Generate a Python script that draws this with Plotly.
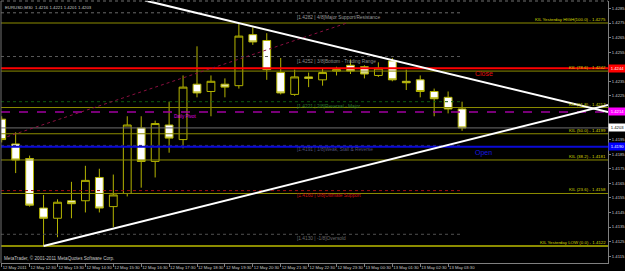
import plotly.graph_objects as go

# ---------------- data ----------------
bar_times = ["12 May 11:30", "12 May 12:00", "12 May 12:30", "12 May 13:00", "12 May 13:30",
             "12 May 14:00", "12 May 14:30", "12 May 15:00", "12 May 15:30", "12 May 16:00",
             "12 May 16:30", "12 May 17:00", "12 May 17:30", "12 May 18:00", "12 May 18:30",
             "12 May 19:00", "12 May 19:30", "12 May 20:00", "12 May 20:30", "12 May 21:00",
             "12 May 21:30", "12 May 22:00", "12 May 22:30", "12 May 23:00", "12 May 23:30",
             "13 May 00:00", "13 May 00:30", "13 May 01:00", "13 May 01:30", "13 May 02:00",
             "13 May 02:30", "13 May 03:00", "13 May 03:30", "13 May 04:00"]

open_p = [1.4209, 1.4192, 1.4182, 1.4148, 1.4141, 1.4153, 1.4153, 1.4169, 1.4149, 1.4158,
          1.4203, 1.4180, 1.4205, 1.4195, 1.4233, 1.4228, 1.4233, 1.4232, 1.4267, 1.4263,
          1.4241, 1.4226, 1.4238, 1.4236, 1.4242, 1.4246, 1.4245, 1.4239, 1.4249, 1.4235,
          1.4236, 1.4228, 1.4224, 1.4216]
high_p = [1.4211, 1.4200, 1.4184, 1.4157, 1.4154, 1.4166, 1.4177, 1.4175, 1.4171, 1.4211,
          1.4211, 1.4208, 1.4221, 1.4239, 1.4259, 1.4239, 1.4237, 1.4275, 1.4272, 1.4268,
          1.4251, 1.4243, 1.4241, 1.4244, 1.4245, 1.4250, 1.4246, 1.4248, 1.4251, 1.4243,
          1.4239, 1.4230, 1.4228, 1.4221]
low_p = [1.4193, 1.4172, 1.4149, 1.4122, 1.4128, 1.4141, 1.4145, 1.4145, 1.4135, 1.4156,
         1.4162, 1.4169, 1.4186, 1.4189, 1.4224, 1.4211, 1.4224, 1.4230, 1.4260, 1.4236,
         1.4226, 1.4225, 1.4231, 1.4232, 1.4239, 1.4240, 1.4237, 1.4238, 1.4235, 1.4229,
         1.4224, 1.4211, 1.4213, 1.4201]
close_p = [1.4195, 1.4181, 1.4150, 1.4141, 1.4152, 1.4151, 1.4167, 1.4148, 1.4157, 1.4205,
           1.4180, 1.4206, 1.4196, 1.4231, 1.4227, 1.4235, 1.4231, 1.4266, 1.4262, 1.4243,
           1.4227, 1.4238, 1.4237, 1.4241, 1.4243, 1.4242, 1.4240, 1.4244, 1.4236, 1.4234,
           1.4228, 1.4223, 1.4216, 1.4203]

price_ticks = [1.4285, 1.4275, 1.4265, 1.4255, 1.4245, 1.4235, 1.4225, 1.4215, 1.4205, 1.4195,
               1.4185, 1.4175, 1.4165, 1.4155, 1.4145, 1.4135, 1.4125, 1.4115]
# labels hidden behind the coloured price boxes are left blank, as in the terminal
price_tick_labels = ["1.4285", "1.4275", "1.4265", "1.4255", "", "1.4235", "1.4225",
                     "", "", "1.4195", "1.4185", "1.4175", "1.4165", "1.4155",
                     "1.4145", "1.4135", "1.4125", "1.4115"]
time_tick_vals = bar_times[0:33:2]
time_tick_labels = ["12 May 2011"] + bar_times[2:33:2]

kil_levels = [1.4275, 1.4242, 1.4217, 1.4199, 1.4181, 1.4158, 1.4122]
kil_labels = ["KIL Yesterday HIGH(100.0) - 1.4275", "KIL (78.6) - 1.4242", "KIL (61.8) - 1.4217",
              "KIL (50.0) - 1.4199", "KIL (38.2) - 1.4181", "KIL (23.6) - 1.4158",
              "KIL Yesterday LOW (0.0) - 1.4122"]

murrey_levels = [1.4282, 1.4252, 1.4221, 1.4191, 1.4160, 1.4130]
murrey_labels = ["[1.4282 | 4/8]Major Support/Resistance", "[1.4252 | 3/8]Bottom - Trading Range",
                 "[1.4221 | 2/8]Reversal - Major", "[1.4191 | 1/8]Weak, Stall & Reverse",
                 "[1.4160 | 0/8]Ultimate Support", "[1.4130 | -1/8]Oversold"]

close_level = 1.4244
open_level = 1.4190
pivot_level = 1.4214
bid_level = close_p[-1]

# trend lines: (bar index, price)
desc_trend_x = [10.27, 43.46]
desc_trend_y = [1.42905, 1.42139]
asc_trend_x = [3, 43.46]
asc_trend_y = [1.4122, 1.42187]
chan_trend_x = [0.4, 24.75]
chan_trend_y = [1.4197, 1.4275]

title_text = "EURUSD,M30  1.4216 1.4221 1.4201 1.4203"
copyright_text = "MetaTrader, © 2001-2011 MetaQuotes Software Corp."

# ---------------- styles ----------------
FONT = "Liberation Sans"
CANDLE_LINE = "#b4b400"
KIL_COLOR = "#8c8c00"
AXIS_COLOR = "#808080"
murrey_line_colors = ["#6a6a6a", "#5a5a5a", "#0f5a0f", "#303058", "#a01010", "#505050"]
murrey_text_colors = ["#9a9a9a", "#8a8a8a", "#2a7a2a", "#50507a", "#d01010", "#6a6a6a"]

x_range = [-0.05, 43.46]
y_range = [1.41103, 1.42901]

fig = go.Figure()
fig.add_trace(go.Candlestick(
    x=bar_times, open=open_p, high=high_p, low=low_p, close=close_p,
    increasing=dict(line=dict(color=CANDLE_LINE, width=1), fillcolor="#000000"),
    decreasing=dict(line=dict(color=CANDLE_LINE, width=1), fillcolor="#ffffff"),
    whiskerwidth=0, hoverinfo="skip", showlegend=False))

shapes = []
annotations = []

# Murrey math levels (dotted, up to last bar)
last_idx = len(bar_times) - 1
for lvl, lab, lc, tc in zip(murrey_levels, murrey_labels, murrey_line_colors, murrey_text_colors):
    shapes.append(dict(type="line", xref="x", yref="y", x0=x_range[0], x1=last_idx, y0=lvl, y1=lvl,
                       line=dict(color=lc, width=1, dash="dot")))
    annotations.append(dict(xref="x", yref="y", x=21, y=lvl, text=lab, showarrow=False,
                            xanchor="left", yanchor="top", yshift=0,
                            font=dict(family=FONT, size=4.8, color=tc)))

# KIL levels
for i, (lvl, lab) in enumerate(zip(kil_levels, kil_labels)):
    shapes.append(dict(type="line", xref="paper", yref="y", x0=0, x1=1, y0=lvl, y1=lvl,
                       line=dict(color=KIL_COLOR, width=2 if i == len(kil_levels) - 1 else 1)))
    annotations.append(dict(xref="paper", yref="y", x=1, y=lvl, text=lab, showarrow=False,
                            xanchor="right", yanchor="bottom", yshift=-1,
                            font=dict(family=FONT, size=4.4, color="#d8d800")))

# pivot, bid, close, open
shapes.append(dict(type="line", xref="paper", yref="y", x0=0, x1=1, y0=pivot_level, y1=pivot_level,
                   line=dict(color="#a000a0", width=1.5, dash="dash")))
shapes.append(dict(type="line", xref="paper", yref="y", x0=0, x1=1, y0=bid_level, y1=bid_level,
                   line=dict(color="#6e6e6e", width=1)))
shapes.append(dict(type="line", xref="paper", yref="y", x0=0, x1=1, y0=close_level, y1=close_level,
                   line=dict(color="#ff0000", width=2)))
shapes.append(dict(type="line", xref="paper", yref="y", x0=0, x1=1, y0=open_level, y1=open_level,
                   line=dict(color="#0a0ad8", width=2)))

# trend lines
shapes.append(dict(type="line", xref="x", yref="y", x0=chan_trend_x[0], x1=chan_trend_x[1],
                   y0=chan_trend_y[0], y1=chan_trend_y[1], line=dict(color="#8a1040", width=1, dash="dot")))
shapes.append(dict(type="line", xref="x", yref="y", x0=desc_trend_x[0], x1=desc_trend_x[1],
                   y0=desc_trend_y[0], y1=desc_trend_y[1], line=dict(color="#ffffff", width=2)))
shapes.append(dict(type="line", xref="x", yref="y", x0=asc_trend_x[0], x1=asc_trend_x[1],
                   y0=asc_trend_y[0], y1=asc_trend_y[1], line=dict(color="#ffffff", width=2)))

# window frame (left / top)
shapes.append(dict(type="line", xref="paper", yref="paper", x0=0, x1=0, y0=0, y1=1,
                   line=dict(color="#707070", width=1)))
shapes.append(dict(type="line", xref="paper", yref="paper", x0=0, x1=1, y0=1, y1=1,
                   line=dict(color="#707070", width=1, dash="dot")))

# text labels
annotations.append(dict(xref="x", yref="y", x=12.2, y=pivot_level, text="Daily Pivot", showarrow=False,
                        xanchor="left", yanchor="top", font=dict(family=FONT, size=4.6, color="#e000e0")))
annotations.append(dict(xref="x", yref="y", x=33.8, y=close_level, text="Close", showarrow=False,
                        xanchor="left", yanchor="top", font=dict(family=FONT, size=7, color="#e01010")))
annotations.append(dict(xref="x", yref="y", x=33.8, y=open_level, text="Open", showarrow=False,
                        xanchor="left", yanchor="top", font=dict(family=FONT, size=7, color="#1818e0")))

# price boxes on axis
for lvl, bg, fc in [(close_level, "#ff0000", "#ffffff"), (pivot_level, "#ff00ff", "#ffffff"),
                    (bid_level, "#ffffff", "#000000"), (open_level, "#0000ff", "#ffffff")]:
    annotations.append(dict(xref="paper", yref="y", x=1, y=lvl, text=f"{lvl:.4f}", showarrow=False,
                            xanchor="left", yanchor="middle", bgcolor=bg, borderpad=1, width=15,
                            font=dict(family=FONT, size=4.2, color=fc)))

annotations.append(dict(xref="paper", yref="paper", x=0, y=1, text=title_text, showarrow=False,
                        xanchor="left", yanchor="top", xshift=2, yshift=-2,
                        font=dict(family=FONT, size=4.3, color="#c8c8c8")))
annotations.append(dict(xref="paper", yref="paper", x=0, y=0, text=copyright_text, showarrow=False,
                        xanchor="left", yanchor="bottom", xshift=1, yshift=0,
                        font=dict(family=FONT, size=4.6, color="#c8c8c8")))

fig.update_layout(
    width=625, height=271,
    margin=dict(l=1, r=17, t=1, b=8, autoexpand=False),
    paper_bgcolor="#000000", plot_bgcolor="#000000",
    boxgap=0.2,
    shapes=shapes, annotations=annotations,
    showlegend=False,
    xaxis=dict(type="category", range=x_range, showgrid=False, zeroline=False,
               rangeslider=dict(visible=False), automargin=False,
               showline=True, linecolor=AXIS_COLOR, linewidth=1,
               ticks="outside", ticklen=3, tickcolor=AXIS_COLOR, tickangle=0,
               tickvals=time_tick_vals, ticktext=time_tick_labels,
               ticklabelposition="outside right",
               tickfont=dict(family=FONT, size=4.2, color="#c8c8c8")),
    yaxis=dict(side="right", range=y_range, showgrid=False, zeroline=False, automargin=False,
               showline=True, linecolor=AXIS_COLOR, linewidth=1,
               ticks="outside", ticklen=2, tickcolor=AXIS_COLOR,
               tickvals=price_ticks, ticktext=price_tick_labels,
               tickfont=dict(family=FONT, size=4.2, color="#c8c8c8")),
)

fig.write_html("out.html", config={"displayModeBar": False})
